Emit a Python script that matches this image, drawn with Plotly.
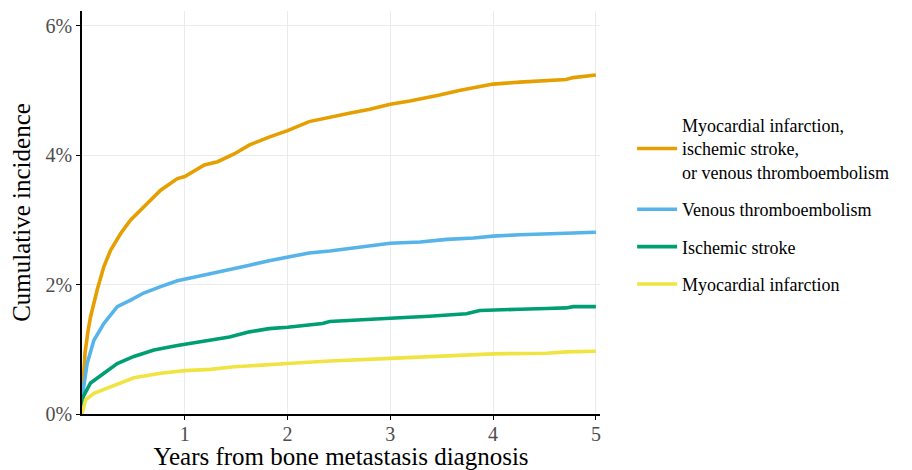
import plotly.graph_objects as go

# ---- data (years, cumulative incidence in %) ----
labels = [
    "Myocardial infarction,<br>ischemic stroke,<br>or venous thromboembolism",
    "Venous thromboembolism",
    "Ischemic stroke",
    "Myocardial infarction",
]
colors = ["#E69F00", "#56B4E9", "#009E73", "#F0E442"]

t_any = [0, 0.01, 0.03, 0.06, 0.083, 0.148, 0.213, 0.278, 0.376, 0.473, 0.603, 0.765,
         0.928, 1.0, 1.19, 1.32, 1.48, 1.63, 1.82, 2.0, 2.21, 2.41, 2.6, 2.8, 3.0,
         3.19, 3.38, 3.48, 3.67, 3.87, 4.0, 4.26, 4.52, 4.71, 4.78, 5.0]
y_any = [0.2, 0.5, 0.95, 1.3, 1.5, 1.92, 2.28, 2.53, 2.79, 3.0, 3.2, 3.46,
         3.64, 3.67, 3.85, 3.9, 4.02, 4.16, 4.28, 4.38, 4.52, 4.59, 4.65, 4.71, 4.79,
         4.84, 4.89, 4.93, 5.0, 5.06, 5.10, 5.13, 5.15, 5.17, 5.20, 5.24]

t_vte = [0, 0.012, 0.05, 0.116, 0.213, 0.343, 0.473, 0.6, 0.765, 0.928, 1.19, 1.435,
         1.63, 1.82, 2.0, 2.21, 2.41, 2.6, 2.8, 3.0, 3.29, 3.55, 3.81, 4.0, 4.26,
         4.52, 4.78, 5.0]
y_vte = [0.15, 0.37, 0.78, 1.14, 1.40, 1.66, 1.76, 1.87, 1.97, 2.06, 2.15, 2.23,
         2.30, 2.37, 2.43, 2.49, 2.52, 2.56, 2.60, 2.64, 2.66, 2.70, 2.72, 2.75, 2.77,
         2.78, 2.79, 2.81]

t_str = [0, 0.012, 0.083, 0.213, 0.343, 0.505, 0.70, 0.928, 1.19, 1.435, 1.63, 1.82,
         2.0, 2.21, 2.34, 2.41, 2.6, 2.8, 3.0, 3.38, 3.74, 3.87, 4.0, 4.26, 4.52,
         4.71, 4.78, 5.0]
y_str = [0.1, 0.27, 0.48, 0.63, 0.78, 0.89, 0.99, 1.06, 1.12, 1.19, 1.27, 1.32,
         1.34, 1.38, 1.40, 1.43, 1.45, 1.46, 1.48, 1.51, 1.55, 1.60, 1.61, 1.62, 1.63,
         1.64, 1.66, 1.66]

t_mi = [0, 0.035, 0.116, 0.278, 0.505, 0.765, 1.0, 1.25, 1.48, 2.0, 2.41, 3.0,
        3.38, 3.5, 4.0, 4.52, 4.71, 5.0]
y_mi = [0.0, 0.22, 0.32, 0.42, 0.56, 0.63, 0.67, 0.69, 0.73, 0.78, 0.82, 0.86,
        0.89, 0.90, 0.93, 0.94, 0.96, 0.97]

x_ticks = [1, 2, 3, 4, 5]
y_ticks = [0, 2, 4, 6]
y_ticktext = ["0%", "2%", "4%", "6%"]

series = [(t_any, y_any), (t_vte, y_vte), (t_str, y_str), (t_mi, y_mi)]

FONT = "Liberation Serif, Times New Roman, serif"

fig = go.Figure()
for i, ((tx, ty), lab, col) in enumerate(zip(series, labels, colors)):
    fig.add_trace(go.Scatter(
        x=tx, y=ty, mode="lines", name=lab,
        line=dict(color=col, width=3.6),
        legendgroup=f"g{i}",
    ))

# page body has an 8px margin, so the figure is 904x462 and offset by 8px
fig.update_layout(
    width=904, height=462,
    margin=dict(l=74, r=312, t=3, b=56),
    plot_bgcolor="white", paper_bgcolor="white",
    font=dict(family=FONT, color="black"),
    showlegend=True,
    legend=dict(
        x=1.062, xanchor="left", y=0.519, yanchor="middle",
        font=dict(size=18, family=FONT, color="black"),
        tracegroupgap=11, traceorder="grouped", itemwidth=40,
        bgcolor="rgba(0,0,0,0)",
    ),
    xaxis=dict(
        range=[0, 5.04], tickvals=x_ticks, automargin=False,
        showline=True, linecolor="black", linewidth=1.6,
        ticks="outside", ticklen=4, tickcolor="black", tickwidth=1.2,
        ticklabelstandoff=-3,
        showgrid=True, gridcolor="#ebebeb", gridwidth=1.2, zeroline=False,
        tickfont=dict(size=20, color="#4d4d4d", family=FONT),
        title=dict(text="Years from bone metastasis diagnosis",
                   font=dict(size=25, color="black", family=FONT), standoff=0),
    ),
    yaxis=dict(
        range=[0, 6.23], tickvals=y_ticks, ticktext=y_ticktext, automargin=False,
        showline=True, linecolor="black", linewidth=1.6,
        ticks="outside", ticklen=4, tickcolor="black", tickwidth=1.2,
        showgrid=True, gridcolor="#ebebeb", gridwidth=1.2, zeroline=False,
        tickfont=dict(size=20, color="#4d4d4d", family=FONT),
        title=dict(text="Cumulative incidence",
                   font=dict(size=25, color="black", family=FONT), standoff=8),
    ),
)

fig.write_html("out.html")
